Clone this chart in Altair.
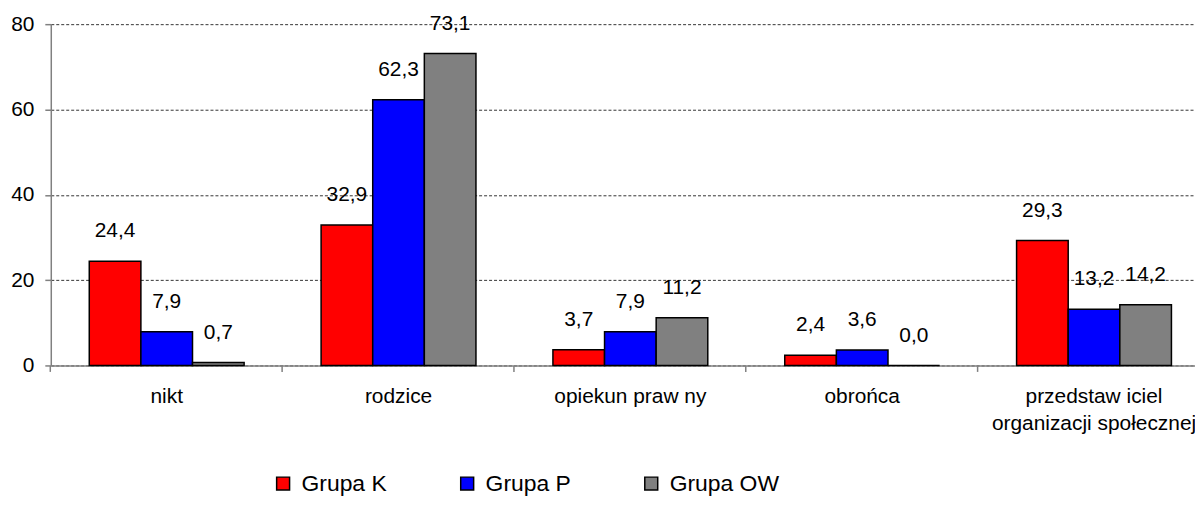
import altair as alt
import pandas as pd

categories = ["nikt", "rodzice", "opiekun praw ny", "obrońca",
              "przedstaw iciel\norganizacji społecznej"]
groups = ["Grupa K", "Grupa P", "Grupa OW"]
grupa_k = [24.4, 32.9, 3.7, 2.4, 29.3]
grupa_p = [7.9, 62.3, 7.9, 3.6, 13.2]
grupa_ow = [0.7, 73.1, 11.2, 0.0, 14.2]
y_ticks = [0, 20, 40, 60, 80]
colors = ["#FF0000", "#0000FF", "#808080"]

rows = []
for g, vals in zip(groups, [grupa_k, grupa_p, grupa_ow]):
    for c, v in zip(categories, vals):
        rows.append({"kategoria": c, "grupa": g, "wartosc": v,
                     "etykieta": f"{v:.1f}".replace(".", ",")})
df = pd.DataFrame(rows)

FONT = "Liberation Sans"
GRAY = "#808080"

x_enc = alt.X(
    "kategoria:N", sort=categories,
    scale=alt.Scale(range=[0, 1165], paddingInner=0.332, paddingOuter=0.166),
    axis=alt.Axis(title=None, labelAngle=0, labelFontSize=21, labelFont=FONT,
                  labelColor="black", labelPadding=14, tickSize=6, tickColor=GRAY,
                  domainColor=GRAY, domainWidth=1.5, tickWidth=1.5, bandPosition=-0.25,
                  labelExpr="split(datum.label, '\\n')", labelLineHeight=27,
                  labelLimit=0, grid=False, labelBaseline="top"),
)
xoff = alt.XOffset("grupa:N", sort=groups,
                   scale=alt.Scale(paddingInner=0, paddingOuter=0))
y_enc = alt.Y(
    "wartosc:Q",
    scale=alt.Scale(domain=[0, 80], nice=False),
    axis=alt.Axis(values=y_ticks, title=None, grid=True, gridDash=[3, 2],
                  gridColor="#333333", gridWidth=1, labelFontSize=21, labelFont=FONT,
                  labelColor="black", tickSize=6, tickColor=GRAY, tickWidth=1.5,
                  labelPadding=11, domainColor=GRAY, domainWidth=1.5),
)
color_enc = alt.Color(
    "grupa:N", sort=groups,
    scale=alt.Scale(domain=groups, range=colors),
    legend=alt.Legend(orient="none", legendX=222, legendY=450, direction="horizontal",
                      title=None, labelFontSize=23, labelFont=FONT, labelColor="black",
                      symbolType="square", symbolSize=169, symbolStrokeWidth=1.5,
                      symbolStrokeColor="black", labelOffset=7, columnPadding=69,
                      padding=0, gridAlign="each"),
)

bars = alt.Chart(df).mark_bar(stroke="black", strokeWidth=1.5, opacity=1).encode(
    x=x_enc, xOffset=xoff, y=y_enc, color=color_enc
)
labels = alt.Chart(df).mark_text(baseline="middle", dy=-30, fontSize=21, font=FONT,
                                 color="black").encode(
    x=alt.X("kategoria:N", sort=categories), xOffset=alt.XOffset("grupa:N", sort=groups),
    y="wartosc:Q", text="etykieta:N"
)

chart = alt.layer(bars, labels).properties(
    width=1150, height=343,
    autosize=alt.AutoSizeParams(type="none"),
    padding={"left": 43, "top": 15, "right": 0, "bottom": 135},
    background="white",
).configure_view(stroke=None)

chart.save("out.html", embed_options={"renderer": "svg", "actions": False})
